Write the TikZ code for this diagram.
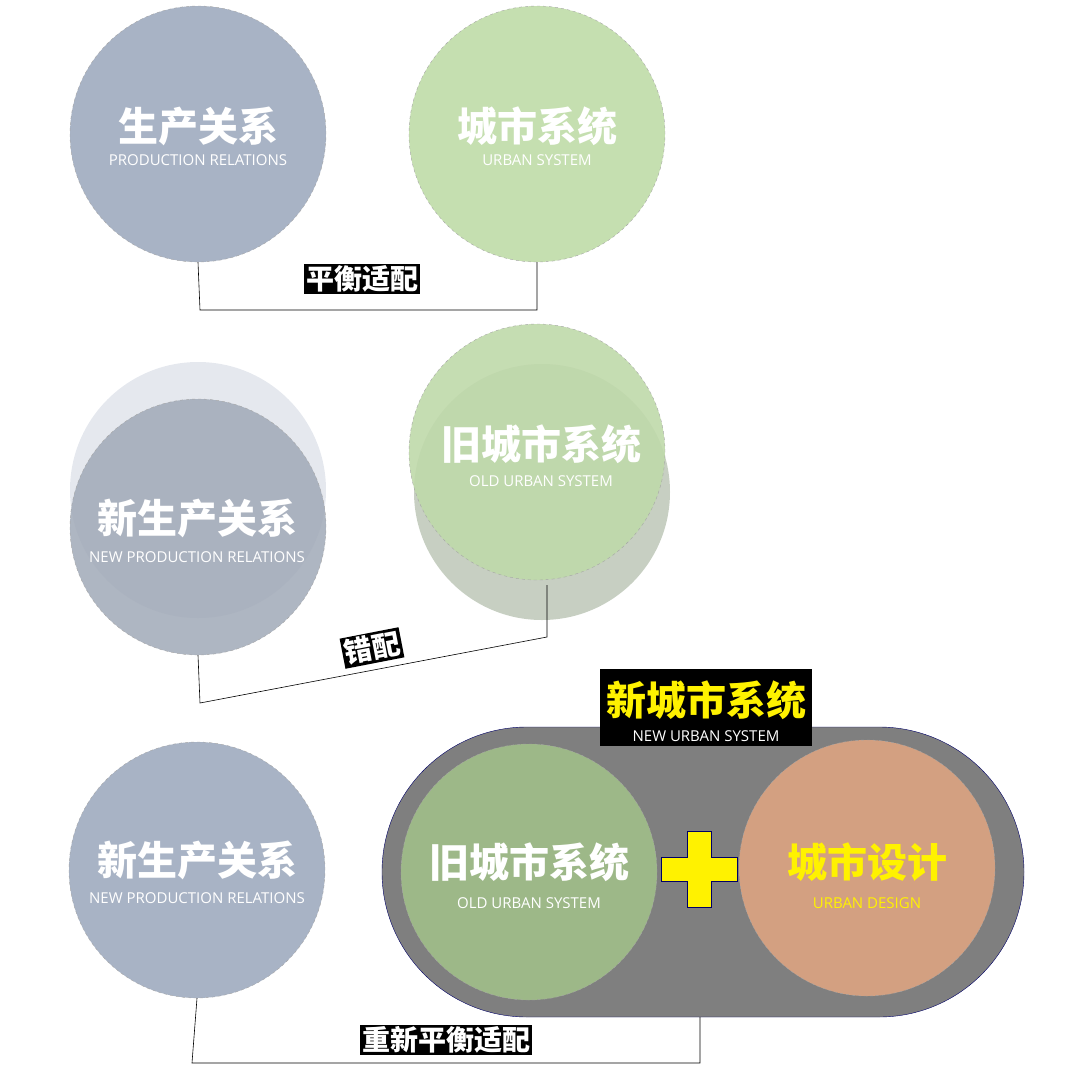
\documentclass[tikz,border=0pt]{standalone}
\usepackage{fontspec}
\setmainfont{Open Sans}
\newfontfamily\cjk{Noto Sans CJK SC}
\usetikzlibrary{positioning}
\definecolor{prodblue}{HTML}{A8B3C5}
\definecolor{urbgreen}{HTML}{C5DFB0}
\definecolor{oldgreen}{HTML}{9DB888}
\definecolor{design}{HTML}{D3A081}
\definecolor{pillgray}{HTML}{7F7F7F}
\begin{document}
\begin{tikzpicture}[x=1pt,y=-1pt,
		bubble/.style={circle,draw=gray!70,dashed,minimum size=256pt,inner sep=0pt},
		ghost/.style={circle,minimum size=256pt,inner sep=0pt},
		title/.style={font=\cjk\bfseries\fontsize{40}{42}\selectfont,text=white},
		sub/.style={font=\fontsize{15}{17}\selectfont,text=white},
		tag/.style={fill=black,text=white,font=\cjk\bfseries\fontsize{28}{30}\selectfont,inner sep=2pt},
		link/.style={draw=black,semithick}]
		\useasboundingbox (0,0) rectangle (1080,1074);

		% first row
		\node [bubble,fill=prodblue] (prod) at (198,134) {};
		\node [bubble,fill=urbgreen] (urban) at (537,134) {};
		\node [title] (prod-t) at (198,126) {生产关系};
		\node [sub] (prod-s) at (198,160) {PRODUCTION RELATIONS};
		\node [title] (urban-t) at (537,126) {城市系统};
		\node [sub] (urban-s) at (537,160) {URBAN SYSTEM};
		\coordinate (b1) at (200,310);
		\coordinate (b2) at (537,310);
		\draw [link] (prod.south) -- (b1) -- (b2) -- (urban.south);
		\node [tag] (fit1) at (362,279) {平衡适配};

		% second row
		\node [ghost,fill=prodblue!30] (prod-old) at (198,490) {};
		\node [bubble,fill=prodblue!80!gray,fill opacity=0.85] (nprod) at (198,527) {};
		\node [ghost,fill=oldgreen!55!gray!50] (urban-new) at (542,492) {};
		\node [bubble,fill=urbgreen!85!oldgreen,fill opacity=0.9] (ourban) at (537,452) {};
		\node [title] (nprod-t) at (197,518) {新生产关系};
		\node [sub] (nprod-s) at (197,557) {NEW PRODUCTION RELATIONS};
		\node [title] (ourban-t) at (541,444) {旧城市系统};
		\node [sub] (ourban-s) at (541,481) {OLD URBAN SYSTEM};
		\coordinate (c1) at (200,703);
		\coordinate (c2) at (547,637);
		\draw [link] (nprod.south) -- (c1) -- (c2) -- (547,585);
		\node [tag,rotate=11] (miss) at (372,648) {错配};

		% third row
		\draw [draw=blue!40!black,fill=pillgray,rounded corners=145pt] (382,727) rectangle (1024,1017);
		\node [bubble,fill=prodblue] (nprod2) at (197,870) {};
		\node [bubble,fill=oldgreen] (ourban2) at (529,872) {};
		\node [bubble,fill=design] (design) at (867,868) {};
		\node [title] (nprod2-t) at (197,860) {新生产关系};
		\node [sub] (nprod2-s) at (197,898) {NEW PRODUCTION RELATIONS};
		\node [title] (ourban2-t) at (529,862) {旧城市系统};
		\node [sub] (ourban2-s) at (529,903) {OLD URBAN SYSTEM};
		\node [title,text=yellow] (design-t) at (867,862) {城市设计};
		\node [sub,text=yellow] (design-s) at (867,903) {URBAN DESIGN};
		\draw [fill=yellow,draw=blue!40!black] (687,831) -- (711,831) -- (711,857) -- (737,857) -- (737,881)
			-- (711,881) -- (711,907) -- (687,907) -- (687,881) -- (661,881) -- (661,857) -- (687,857) -- cycle;
		\node [fill=black,minimum width=212pt,minimum height=77pt] (newbox) at (706,707) {};
		\node [title,text=yellow] (new-t) at (706,700) {新城市系统};
		\node [sub] (new-s) at (706,736) {NEW URBAN SYSTEM};
		\coordinate (d1) at (192,1063);
		\coordinate (d2) at (700,1063);
		\draw [link] (nprod2.south) -- (d1) -- (d2) -- (700,1017);
		\node [tag] (refit) at (446,1040) {重新平衡适配};
\end{tikzpicture}
\end{document}
